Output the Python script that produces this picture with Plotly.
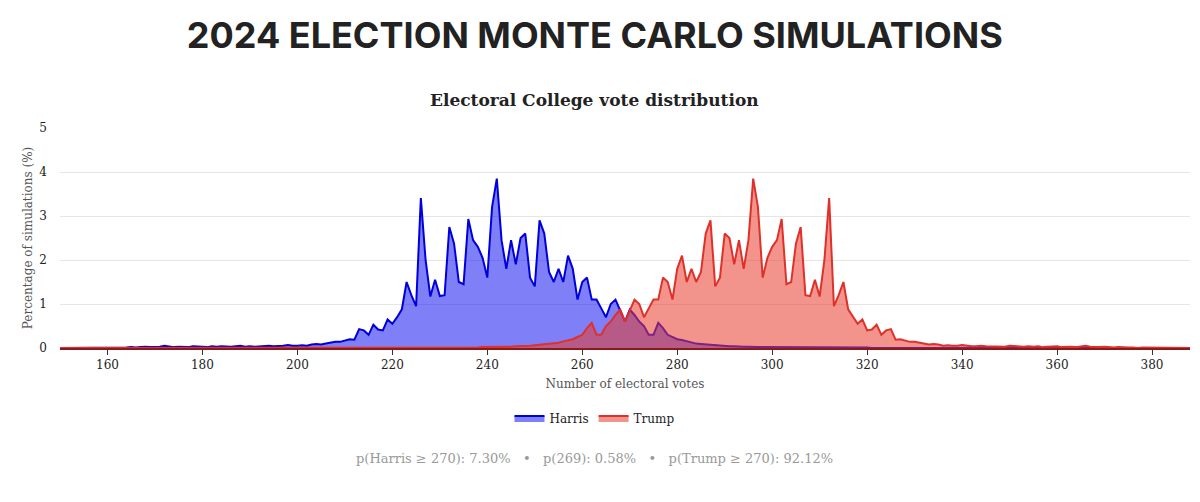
import plotly.graph_objects as go

# electoral votes 150..389
votes = list(range(150, 390))

harris_pct = [
    0, 0, 0, 0, 0, 0, 0, 0.01, 0, 0.01,
    0.01, 0, 0.01, 0.01, 0.01, 0.02, 0.01, 0.02, 0.03, 0.02,
    0.02, 0.03, 0.05, 0.03, 0.02, 0.03, 0.03, 0.02, 0.04, 0.03,
    0.03, 0.02, 0.04, 0.03, 0.04, 0.03, 0.03, 0.04, 0.05, 0.03,
    0.04, 0.03, 0.04, 0.04, 0.05, 0.04, 0.04, 0.05, 0.07, 0.05,
    0.05, 0.06, 0.05, 0.08, 0.09, 0.08, 0.1, 0.12, 0.14, 0.14,
    0.17, 0.2, 0.19, 0.43, 0.4, 0.3, 0.53, 0.42, 0.4, 0.65,
    0.55, 0.7, 0.88, 1.5, 1.2, 0.95, 3.41, 2.0, 1.17, 1.55,
    1.18, 1.2, 2.75, 2.37, 1.5, 1.45, 2.93, 2.45, 2.3, 2.05,
    1.6, 3.2, 3.85, 2.45, 1.8, 2.45, 1.9, 2.5, 2.6, 1.6,
    1.4, 2.9, 2.6, 1.73, 1.5, 1.8, 1.5, 2.1, 1.8, 1.1,
    1.5, 1.6, 1.1, 1.1, 0.9, 0.7, 1.0, 1.1, 0.85, 0.6,
    0.87, 0.75, 0.6, 0.5, 0.3, 0.3, 0.57, 0.45, 0.3, 0.25,
    0.2, 0.18, 0.15, 0.12, 0.1, 0.09, 0.08, 0.07, 0.06, 0.05,
    0.05, 0.04, 0.04, 0.03, 0.03, 0.03, 0.02, 0.02, 0.02, 0.02,
    0.01, 0.01, 0.01, 0.01, 0.01, 0.01, 0.01, 0.01, 0.01, 0.01,
    0.01, 0.01, 0.01, 0.01, 0.01, 0.01, 0.01, 0.01, 0.01, 0.01,
    0.01, 0, 0, 0, 0, 0, 0, 0, 0, 0,
    0, 0, 0, 0, 0, 0, 0, 0, 0, 0,
    0, 0, 0, 0, 0, 0, 0, 0, 0, 0,
    0, 0, 0, 0, 0, 0, 0, 0, 0, 0,
    0, 0, 0, 0, 0, 0, 0, 0, 0, 0,
    0, 0, 0, 0, 0, 0, 0, 0, 0, 0,
    0, 0, 0, 0, 0, 0, 0, 0, 0, 0,
]

trump_pct = [
    0, 0, 0, 0, 0, 0, 0, 0, 0, 0,
    0, 0, 0, 0, 0, 0, 0, 0, 0, 0,
    0, 0, 0, 0, 0, 0, 0, 0, 0, 0,
    0, 0, 0, 0, 0, 0, 0, 0, 0, 0,
    0, 0, 0, 0, 0, 0, 0, 0, 0, 0,
    0, 0, 0, 0, 0, 0, 0, 0, 0, 0,
    0, 0, 0, 0, 0, 0, 0, 0, 0.01, 0.01,
    0.01, 0.01, 0.01, 0.01, 0.01, 0.01, 0.01, 0.01, 0.01, 0.01,
    0.01, 0.01, 0.01, 0.01, 0.01, 0.01, 0.01, 0.01, 0.01, 0.02,
    0.02, 0.02, 0.02, 0.03, 0.03, 0.03, 0.04, 0.04, 0.05, 0.05,
    0.06, 0.07, 0.08, 0.09, 0.1, 0.12, 0.15, 0.18, 0.2, 0.25,
    0.3, 0.45, 0.57, 0.3, 0.3, 0.5, 0.6, 0.75, 0.87, 0.6,
    0.85, 1.1, 1.0, 0.7, 0.9, 1.1, 1.1, 1.6, 1.5, 1.1,
    1.8, 2.1, 1.5, 1.8, 1.5, 1.73, 2.6, 2.9, 1.4, 1.6,
    2.6, 2.5, 1.9, 2.45, 1.8, 2.45, 3.85, 3.2, 1.6, 2.05,
    2.3, 2.45, 2.93, 1.45, 1.5, 2.37, 2.75, 1.2, 1.18, 1.55,
    1.17, 2.0, 3.41, 0.95, 1.2, 1.5, 0.88, 0.7, 0.55, 0.65,
    0.4, 0.42, 0.53, 0.3, 0.4, 0.43, 0.19, 0.2, 0.17, 0.14,
    0.14, 0.12, 0.1, 0.08, 0.09, 0.08, 0.05, 0.06, 0.05, 0.05,
    0.07, 0.05, 0.04, 0.04, 0.05, 0.04, 0.04, 0.03, 0.04, 0.03,
    0.05, 0.04, 0.03, 0.03, 0.04, 0.03, 0.04, 0.02, 0.03, 0.03,
    0.04, 0.02, 0.03, 0.03, 0.02, 0.03, 0.05, 0.03, 0.02, 0.02,
    0.03, 0.02, 0.01, 0.02, 0.01, 0.01, 0.01, 0, 0.01, 0.01,
    0, 0.01, 0, 0, 0, 0, 0, 0, 0, 0,
]

serif = "Roboto Slab, DejaVu Serif, serif"

fig = go.Figure()
fig.add_trace(go.Scatter(
    x=votes, y=harris_pct, name="Harris", mode="lines",
    line=dict(color="#0000dd", width=2),
    fill="tozeroy", fillcolor="rgba(0,0,240,0.5)",
))
fig.add_trace(go.Scatter(
    x=votes, y=trump_pct, name="Trump", mode="lines",
    line=dict(color="#e0302a", width=2),
    fill="tozeroy", fillcolor="rgba(232,60,45,0.55)",
))

fig.update_layout(
    width=1200, height=502,
    paper_bgcolor="white", plot_bgcolor="white",
    margin=dict(l=52, r=18, t=120, b=162),
    font=dict(family=serif, color="#333", size=12),
    title=dict(
        text="<b>2024 ELECTION MONTE CARLO SIMULATIONS</b>",
        x=0.489, xanchor="center", xref="container", y=0.946, yref="container", yanchor="middle",
        font=dict(family="Inter, Roboto, sans-serif", size=36, color="#222"),
    ),
    xaxis=dict(
        range=[150, 388], tickvals=list(range(160, 381, 20)),
        ticks="outside", ticklen=5, tickcolor="#333", automargin=False,
        showgrid=False, zeroline=False,
        showline=True, linecolor="#8b1a1a", linewidth=1.5,
        tickfont=dict(color="#222"),
        title=dict(text="Number of electoral votes", font=dict(size=12, color="#555"), standoff=8),
    ),
    yaxis=dict(
        range=[0, 5.0], tickvals=[0, 1, 2, 3, 4, 5], automargin=False,
        showgrid=True, gridcolor="#e6e6e6", zeroline=False,
        ticklabelstandoff=12, tickfont=dict(color="#222"),
        title=dict(text="Percentage of simulations (%)", font=dict(size=12, color="#555"), standoff=4),
    ),
    legend=dict(
        orientation="h", x=0.473, xanchor="center", y=-0.318, yanchor="middle",
        font=dict(size=12, color="#222"),
    ),
)

fig.add_annotation(
    text="<b>Electoral College vote distribution</b>",
    xref="paper", yref="paper", x=0.473, y=1.127, xanchor="center", yanchor="middle",
    showarrow=False, font=dict(family=serif, size=17, color="#222"),
)
fig.add_annotation(
    text="p(Harris ≥ 270): 7.30%   •   p(269): 0.58%   •   p(Trump ≥ 270): 92.12%",
    xref="paper", yref="paper", x=0.473, y=-0.5, xanchor="center", yanchor="middle",
    showarrow=False, font=dict(family=serif, size=13, color="#999"),
)

fig.write_html("out.html")
